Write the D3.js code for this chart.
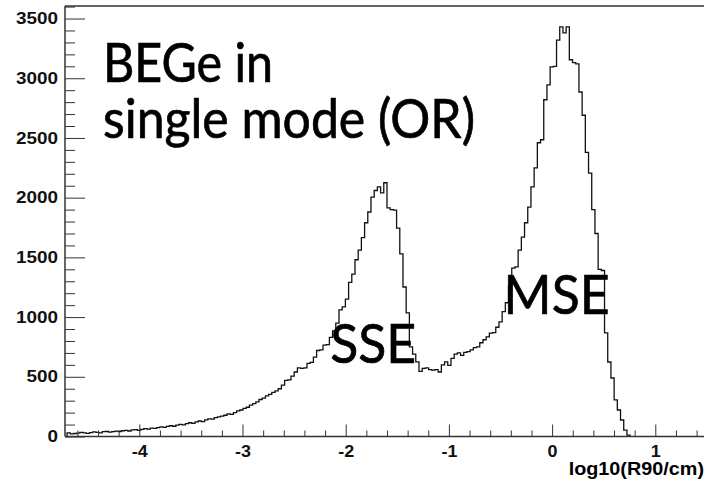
<!DOCTYPE html>
<html>
<head>
<meta charset="utf-8">
<script src="https://cdn.jsdelivr.net/npm/d3@7"></script>
<style>
  body { margin: 0; background: #fff; }
  .axis path, .axis line { stroke: #333; }
  .axis text { font-family: "Liberation Sans", Arial, sans-serif; font-weight: bold; fill: #111; }
  .big { font-family: Lato, "Noto Sans", sans-serif; fill: #000; stroke: #000; stroke-width: 0.7px; }
</style>
</head>
<body>
<div class="canvas"></div>
<script>
// histogram binning (log10(R90/cm))
var binStart = -4.7;
var binWidth = 0.031;
var counts = [
  30, 22, 25, 28, 34, 30, 26, 32, 38, 35,
  30, 40, 42, 36, 40, 45, 42, 48, 52, 46,
  55, 58, 52, 60, 66, 62, 70, 68, 75, 80,
  76, 84, 90, 86, 96, 102, 98, 108, 115, 110,
  122, 130, 125, 140, 148, 145, 158, 165, 170, 178,
  190, 186, 200, 215, 222, 235, 245, 262, 275, 290,
  310, 322, 340, 352, 370, 382, 400, 430, 470, 475,
  505, 540, 575, 570, 575, 612, 620, 665, 720, 725,
  765, 770, 830, 885, 950, 1060, 1085, 1150, 1290, 1360,
  1480, 1560, 1665, 1790, 1880, 2005, 2060, 2090, 2040, 2125,
  1915, 1900, 1895, 1745, 1530, 1252, 1035, 750, 690, 625,
  545, 570, 575, 560, 555, 560, 540, 600, 625, 595,
  655, 690, 700, 680, 705, 710, 725, 745, 750, 785,
  810, 835, 865, 870, 915, 960, 1045, 1120, 1260, 1410,
  1420, 1560, 1670, 1790, 1920, 2090, 2250, 2460, 2485, 2820,
  2945, 3095, 3100, 3320, 3430, 3380, 3430, 3155, 3130, 3120,
  2885, 2690, 2380, 2205, 1900, 1700, 1400, 1390, 867, 624,
  490, 306, 222, 138, 54, 12
];

var xDomain = [-4.72, 1.5];
var yDomain = [0, 3605];
var xMajorTicks = [-4, -3, -2, -1, 0, 1];
var xTickLabels = ["-4", "-3", "-2", "-1", "0", "1"];
var yMajorTicks = [0, 500, 1000, 1500, 2000, 2500, 3000, 3500];
var yTickLabels = ["0", "500", "1000", "1500", "2000", "2500", "3000", "3500"];
var xTitle = "log10(R90/cm)";
var titleLines = ["BEGe in", "single mode (OR)"];
var peakLabels = [
  { text: "SSE", x: -2.15, y: 615 },
  { text: "MSE", x: -0.47, y: 1030 }
];

var width = 704;
var height = 480;
var mLeft = 65, mTop = 6, mBottom = 436.5;

var svg = d3.select(".canvas")
  .append("svg")
  .attr("width", width)
  .attr("height", height);

// widen helvetica-ish labels a bit, the original glyphs are broader
function widen(sel, k) {
  sel.each(function () {
    var w = this.getComputedTextLength();
    d3.select(this).attr("textLength", w * k).attr("lengthAdjust", "spacingAndGlyphs");
  });
}

/* Scales */
var xScale = d3.scaleLinear().domain(xDomain).range([mLeft, mLeft + (xDomain[1] - xDomain[0]) * 103.2]);
var yScale = d3.scaleLinear().domain(yDomain).range([mBottom, mTop]);

/* frame top line */
svg.append("line")
  .attr("x1", mLeft).attr("x2", width)
  .attr("y1", mTop).attr("y2", mTop)
  .attr("stroke", "#333").attr("stroke-width", 1.5);

/* histogram outline */
var pts = counts.map((c, i) => ({ x: binStart + i * binWidth, y: c }));
pts.unshift({ x: binStart, y: 0 });
pts.push({ x: binStart + counts.length * binWidth, y: counts[counts.length - 1] });
pts.push({ x: binStart + counts.length * binWidth, y: 0 });
var line = d3.line()
  .x((d) => xScale(d.x))
  .y((d) => yScale(d.y))
  .curve(d3.curveStepAfter);
svg.append("path")
  .attr("d", line(pts))
  .attr("fill", "none")
  .attr("stroke", "#111")
  .attr("stroke-width", 1.3);

/* minor ticks */
var xMinor = d3.range(-4.6, 1.5, 0.2).filter((v) => Math.abs(v - Math.round(v)) > 0.01);
svg.append("g")
  .attr("class", "axis")
  .attr("transform", `translate(0, ${mBottom})`)
  .call(d3.axisBottom(xScale).tickValues(xMinor).tickSizeInner(-6).tickSizeOuter(0).tickFormat(""))
  .call((g) => g.select(".domain").remove());
var yMinor = d3.range(100, 3601, 100).filter((v) => v % 500 !== 0);
svg.append("g")
  .attr("class", "axis")
  .attr("transform", `translate(${mLeft}, 0)`)
  .call(d3.axisLeft(yScale).tickValues(yMinor).tickSizeInner(-10).tickSizeOuter(0).tickFormat(""))
  .call((g) => g.select(".domain").remove());

/* major axes */
var xAxis = d3.axisBottom(xScale)
  .tickValues(xMajorTicks)
  .tickSizeInner(-12)
  .tickSizeOuter(0)
  .tickPadding(9)
  .tickFormat((d, i) => xTickLabels[i]);
var gx = svg.append("g")
  .attr("class", "axis")
  .attr("transform", `translate(0, ${mBottom})`)
  .call(xAxis);
gx.select(".domain").attr("d", `M${mLeft},0H${width}`).attr("stroke-width", 1.5);
gx.selectAll("text").style("font-size", "16px").call(widen, 1.12);

var yAxis = d3.axisLeft(yScale)
  .tickValues(yMajorTicks)
  .tickSizeInner(-20)
  .tickSizeOuter(0)
  .tickPadding(7)
  .tickFormat((d, i) => yTickLabels[i]);
var gy = svg.append("g")
  .attr("class", "axis")
  .attr("transform", `translate(${mLeft}, 0)`)
  .call(yAxis);
gy.select(".domain").attr("d", `M0,${mTop}V${mBottom}`).attr("stroke-width", 1.5);
gy.selectAll("text").style("font-size", "16px").call(widen, 1.18);

/* axis title */
svg.append("text")
  .attr("class", "axis")
  .attr("x", 704)
  .attr("y", 475)
  .attr("text-anchor", "end")
  .style("font-family", '"Liberation Sans", Arial, sans-serif')
  .style("font-weight", "bold")
  .style("font-size", "18px")
  .text(xTitle)
  .call(widen, 1.1);

/* big annotations */
svg.append("text").attr("class", "big")
  .attr("x", 103).attr("y", 82)
  .attr("textLength", 170).attr("lengthAdjust", "spacingAndGlyphs")
  .style("font-size", "54px")
  .text(titleLines[0]);
svg.append("text").attr("class", "big")
  .attr("x", 103).attr("y", 138)
  .attr("textLength", 372).attr("lengthAdjust", "spacingAndGlyphs")
  .style("font-size", "54px")
  .text(titleLines[1]);

svg.selectAll(".peak")
  .data(peakLabels)
  .enter()
  .append("text")
  .attr("class", "big peak")
  .attr("x", (d) => xScale(d.x))
  .attr("y", (d) => yScale(d.y))
  .attr("textLength", (d) => (d.text === "MSE" ? 106 : 86))
  .attr("lengthAdjust", "spacingAndGlyphs")
  .style("font-size", "55px")
  .text((d) => d.text);
</script>
</body>
</html>
